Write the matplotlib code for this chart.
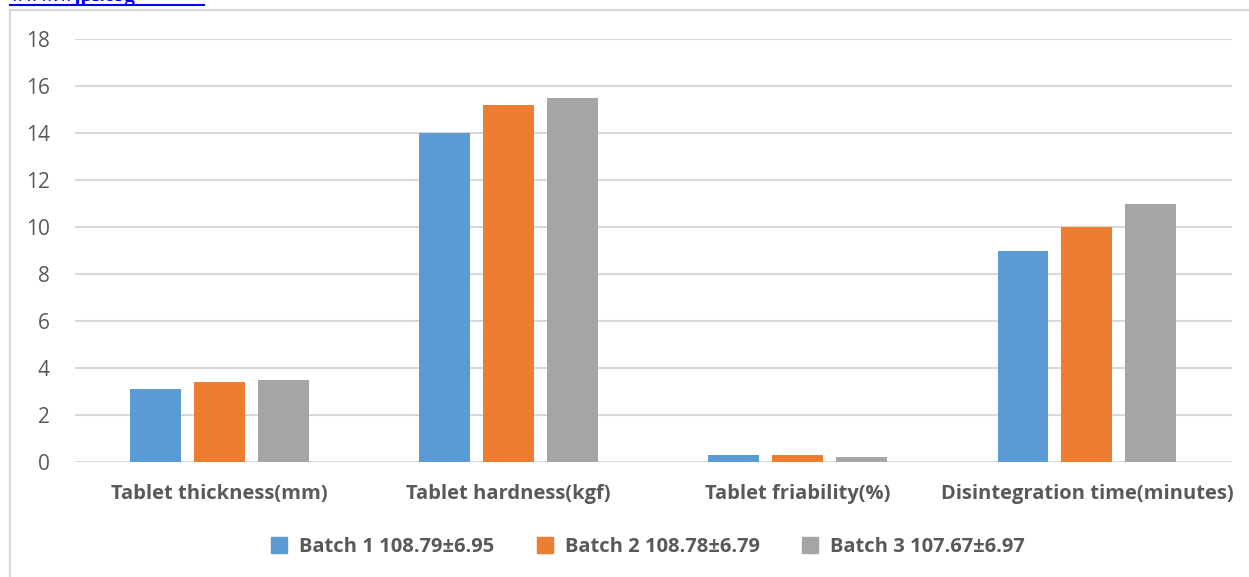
import matplotlib.pyplot as plt
import numpy as np
from matplotlib.patches import Rectangle
from matplotlib.lines import Line2D

categories = ["Tablet thickness(mm)", "Tablet hardness(kgf)",
              "Tablet friability(%)", "Disintegration time(minutes)"]
batch_labels = ["Batch 1 108.79±6.95", "Batch 2 108.78±6.79", "Batch 3 107.67±6.97"]
batch1 = [3.1, 14.0, 0.3, 9.0]
batch2 = [3.4, 15.2, 0.28, 10.0]
batch3 = [3.5, 15.5, 0.22, 11.0]
yticks = [0, 2, 4, 6, 8, 10, 12, 14, 16, 18]

colors = ["#5b9bd5", "#ed7d31", "#a5a5a5"]
text_gray = "#595959"
grid_gray = "#d9d9d9"

plt.rcParams['font.family'] = ['Open Sans', 'DejaVu Sans']

fig = plt.figure(figsize=(12.49, 5.77), dpi=100)
ax = fig.add_axes([0.060, 0.1993, 0.926, 0.7331])

x = np.arange(len(categories))
width = 0.176
step = 0.221
for i, (vals, lab) in enumerate(zip([batch1, batch2, batch3], batch_labels)):
    ax.bar(x + (i - 1) * step, vals, width, color=colors[i], label=lab, zorder=3)

ax.set_xlim(-0.5, len(categories) - 0.5)
ax.set_ylim(0, 18)
ax.set_yticks(yticks)
ax.set_yticklabels([str(t) for t in yticks], fontsize=15, color=text_gray)
ax.set_xticks(x)
ax.set_xticklabels(categories, fontsize=14.5, fontweight='bold', color=text_gray)
ax.tick_params(axis='both', length=0)
ax.tick_params(axis='x', pad=16)
ax.tick_params(axis='y', pad=18)
ax.grid(axis='y', color=grid_gray, linewidth=1.5, zorder=0)
for s in ax.spines.values():
    s.set_visible(False)

# legend with square markers below the plot
handles = [Line2D([0], [0], marker='s', linestyle='none', markersize=12,
                  markerfacecolor=c, markeredgecolor=c) for c in colors]
leg = fig.legend(handles, batch_labels, loc='center', bbox_to_anchor=(0.514, 0.052),
                 ncol=3, frameon=False, handletextpad=0.0, columnspacing=1.5,
                 prop={'weight': 'bold', 'size': 14.5})
for t in leg.get_texts():
    t.set_color(text_gray)

# chart frame
fig.patches.append(Rectangle((10 / 1249, -0.01), 1.0, 1 - 10 / 577 + 0.01,
                             transform=fig.transFigure, fill=False,
                             edgecolor=grid_gray, linewidth=1.5))

# page header link, cut at the top edge
fig.text(10 / 1249, 1 - 1 / 577, "www.wjpr.org", color="#0000ff", fontsize=15,
         fontweight='bold', family=['Liberation Serif', 'DejaVu Serif'], va='baseline')
fig.add_artist(Line2D([10 / 1249, 204 / 1249], [1 - 5 / 577, 1 - 5 / 577],
                      transform=fig.transFigure, color="#0000ff", linewidth=1.5))

fig.savefig("out.png", dpi=100)
